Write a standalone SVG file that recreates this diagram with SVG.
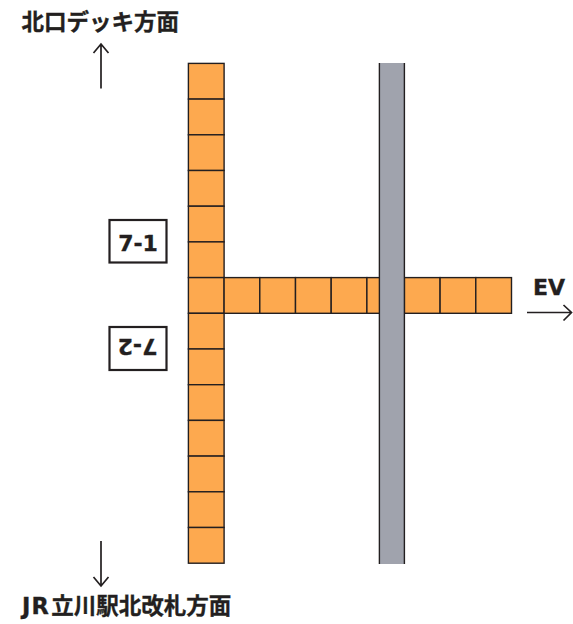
<svg xmlns="http://www.w3.org/2000/svg" width="573" height="624" viewBox="0 0 573 624">
<style>
.cell{fill:#fda94f;stroke:#231f20;stroke-width:1.4}
.pillar{fill:#a0a3ad;stroke:none}
.edge{fill:none;stroke:#231f20;stroke-width:1.4}
.box{fill:#fff;stroke:#231f20;stroke-width:2.2}
.t{font-family:"DejaVu Sans","Noto Sans CJK JP",sans-serif;font-weight:700;fill:#231f20;stroke:#231f20;stroke-width:.35}
.lab{font-size:22.5px}
.num{font-size:22px;text-anchor:middle}
.arrow{fill:none;stroke:#231f20;stroke-width:1.7}
</style>
<g id="column">
<rect class="cell" x="188.4" y="63.4" width="35.7" height="35.7"/>
<rect class="cell" x="188.4" y="99.1" width="35.7" height="35.7"/>
<rect class="cell" x="188.4" y="134.8" width="35.7" height="35.7"/>
<rect class="cell" x="188.4" y="170.5" width="35.7" height="35.7"/>
<rect class="cell" x="188.4" y="206.2" width="35.7" height="35.7"/>
<rect class="cell" x="188.4" y="241.9" width="35.7" height="35.7"/>
<rect class="cell" x="188.4" y="277.6" width="35.7" height="35.7"/>
<rect class="cell" x="188.4" y="313.3" width="35.7" height="35.7"/>
<rect class="cell" x="188.4" y="349" width="35.7" height="35.7"/>
<rect class="cell" x="188.4" y="384.7" width="35.7" height="35.7"/>
<rect class="cell" x="188.4" y="420.4" width="35.7" height="35.7"/>
<rect class="cell" x="188.4" y="456.1" width="35.7" height="35.7"/>
<rect class="cell" x="188.4" y="491.8" width="35.7" height="35.7"/>
<rect class="cell" x="188.4" y="527.5" width="35.7" height="35.7"/>
</g>
<g id="row">
<rect class="cell" x="224.1" y="277.6" width="35.7" height="35.7"/>
<rect class="cell" x="259.8" y="277.6" width="35.7" height="35.7"/>
<rect class="cell" x="295.5" y="277.6" width="35.7" height="35.7"/>
<rect class="cell" x="331.2" y="277.6" width="35.7" height="35.7"/>
<rect class="cell" x="366.9" y="277.6" width="13" height="35.7"/>
<rect class="cell" x="404.4" y="277.6" width="35.7" height="35.7"/>
<rect class="cell" x="440.1" y="277.6" width="35.7" height="35.7"/>
<rect class="cell" x="475.8" y="277.6" width="35.7" height="35.7"/>
</g>
<g id="pillar">
<rect class="pillar" x="379.4" y="63" width="25" height="501"/>
<path class="edge" d="M379.4 63V564M404.400 63V564"/>
</g>
<g id="label-7-1">
<rect class="box" x="109.5" y="220" width="57" height="42.5"/>
<text class="t num" x="138" y="250.500">7-1</text>
</g>
<g id="label-7-2">
<rect class="box" x="109.5" y="327" width="57" height="43"/>
<text class="t num" transform="rotate(180 137.5 348.5)" x="137.5" y="358">7-2</text>
</g>
<g id="label-north"><text class="t lab" x="21.500" y="30">北口デッキ方面</text></g>
<g id="label-south"><text class="t lab" x="22" y="614">J<tspan dx="1">R</tspan><tspan dx="2.500">立川駅北改札方面</tspan></text></g>
<g id="label-ev"><text class="t" font-size="22" x="533" y="295">EV</text></g>
<g id="connectors">
<path class="arrow" d="M101 88.500V44M93.500 53L101 44L108.500 53"/>
<path class="arrow" d="M101 541V586M93.500 577L101 586L108.500 577"/>
<path class="arrow" d="M527 312.500H571.500M563.500 305L571.500 312.500L563.500 320.500"/>
</g>
</svg>
